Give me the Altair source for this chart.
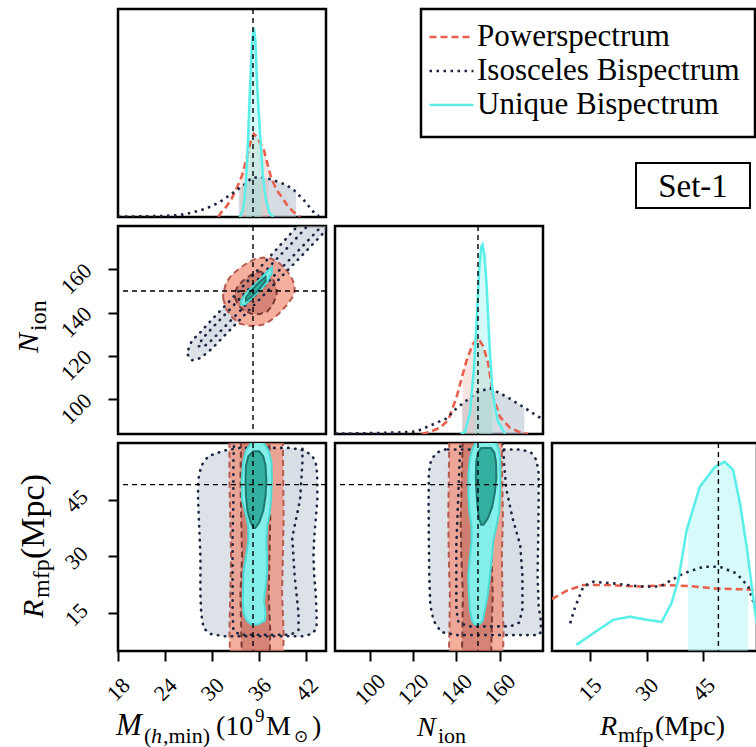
import altair as alt
import pandas as pd

FONT = "Liberation Serif, serif"
W = 208
H = 208
W_LAST = 205
GAP = 9

SERIES = ["Powerspectrum", "Isosceles Bispectrum", "Unique Bispectrum"]
LINE_COLORS = ["#e8604c", "#1c2641", "#5cefe9"]
LINE_DASHES = [[7, 4], [2.5, 4.5], [1, 0]]

TRUTH_M = 35.2
TRUTH_N = 150
TRUTH_R = 49

M_DOMAIN = [18, 44.5]
N_DOMAIN = [84, 180]
R_DOMAIN = [5, 60]
R_DOMAIN_LAST = [5, 59.21]
F_DOMAIN = [0, 1]
M_TICKS = [18, 24, 30, 36, 42]
N_TICKS = [100, 120, 140, 160]
R_TICKS = [15, 30, 45]

# ---------------- 1D marginals (height as fraction of panel) ----------------
M_POW_X = [30.8, 31.1, 31.8, 32.5, 33.2, 33.8, 34.3, 34.8, 35.3, 35.8, 36.6, 37.5, 38.2, 38.8, 39.5, 40.2, 40.8, 41.2]
M_POW_Y = [0.0, 0.02, 0.05, 0.09, 0.145, 0.2, 0.27, 0.35, 0.40, 0.38, 0.32, 0.19, 0.13, 0.10, 0.06, 0.03, 0.01, 0.0]
M_ISO_X = [18, 21, 24, 26, 27.3, 29.2, 30.9, 32.6, 34.05, 35.1, 36.3, 37.6, 39.4, 40.4, 41.7, 43.0, 43.6]
M_ISO_Y = [0.002, 0.003, 0.005, 0.01, 0.02, 0.04, 0.07, 0.115, 0.155, 0.19, 0.19, 0.18, 0.155, 0.13, 0.08, 0.02, 0.005]
M_UNI_X = [33.5, 33.9, 34.1, 34.35, 34.6, 34.85, 35.1, 35.3, 35.5, 35.75, 36.1, 36.45, 36.85, 37.3, 37.8]
M_UNI_Y = [0.0, 0.03, 0.08, 0.2, 0.4, 0.65, 0.85, 0.91, 0.85, 0.62, 0.40, 0.2, 0.08, 0.02, 0.0]

M_ISO_FILL_X = [33.4, 34.05, 35.1, 36.3, 37.6, 39.4, 40.4, 40.7]
M_ISO_FILL_Y = [0.14, 0.155, 0.19, 0.19, 0.18, 0.155, 0.13, 0.12]
M_POW_FILL_X = [33.6, 34.3, 34.8, 35.3, 35.8, 36.6, 37.2]
M_POW_FILL_Y = [0.18, 0.27, 0.35, 0.40, 0.38, 0.32, 0.23]
M_UNI_FILL_X = [34.35, 34.6, 34.85, 35.1, 35.3, 35.5, 35.75, 36.1, 36.3]
M_UNI_FILL_Y = [0.2, 0.4, 0.65, 0.85, 0.91, 0.85, 0.62, 0.40, 0.29]

N_POW_X = [124, 127.8, 132.4, 136.3, 140.2, 142.5, 144.8, 147.5, 150.1, 152.5, 154.7, 157, 160.1, 164.7, 169, 173]
N_POW_Y = [0.0, 0.01, 0.03, 0.067, 0.18, 0.27, 0.356, 0.43, 0.46, 0.42, 0.34, 0.18, 0.083, 0.03, 0.01, 0.0]
N_ISO_X = [84, 95, 105, 115, 121.6, 127.8, 135.5, 140.2, 144, 149.4, 155.5, 163.1, 170.9, 177.8, 180]
N_ISO_Y = [0.002, 0.003, 0.005, 0.008, 0.012, 0.04, 0.075, 0.125, 0.155, 0.2, 0.22, 0.18, 0.13, 0.083, 0.075]
N_UNI_X = [142, 144, 146.3, 148.1, 149.4, 150.5, 151.5, 152.1, 153, 154, 155.5, 156.6, 157.8, 159.2, 160.9, 162.5]
N_UNI_Y = [0.0, 0.01, 0.1, 0.31, 0.55, 0.78, 0.9, 0.91, 0.86, 0.71, 0.39, 0.22, 0.13, 0.06, 0.03, 0.0]

N_ISO_FILL_X = [142.6, 144, 149.4, 155.5, 163.1, 170.9, 171.4]
N_ISO_FILL_Y = [0.145, 0.155, 0.2, 0.22, 0.18, 0.13, 0.127]
N_POW_FILL_X = [143, 144.8, 147.5, 150.1, 152.5, 154.7, 156.5]
N_POW_FILL_Y = [0.29, 0.356, 0.43, 0.46, 0.42, 0.34, 0.22]
N_UNI_FILL_X = [148.4, 149.4, 150.5, 151.5, 152.1, 153, 154, 155.5, 156.6, 157]
N_UNI_FILL_Y = [0.33, 0.55, 0.78, 0.9, 0.91, 0.86, 0.71, 0.39, 0.22, 0.19]

R_POW_X = [5, 8.9, 13.3, 19.1, 28.3, 35.3, 41.5, 48.5, 54.7, 59.2]
R_POW_Y = [0.25, 0.29, 0.317, 0.317, 0.31, 0.317, 0.312, 0.30, 0.297, 0.293]
R_ISO_X = [9.8, 11.1, 13.3, 15.9, 21.2, 28.3, 33.6, 39.7, 45, 49.4, 53.8, 56.9, 58.7, 59.2]
R_ISO_Y = [0.133, 0.21, 0.31, 0.333, 0.325, 0.31, 0.31, 0.373, 0.405, 0.405, 0.373, 0.31, 0.21, 0.17]
R_UNI_X = [11.5, 15.9, 21.2, 25.6, 30, 34, 36.6, 38.4, 40.6, 44.1, 48.1, 50.7, 52.9, 54.7, 56.5, 57.8, 58.9, 59.2]
R_UNI_Y = [0.03, 0.085, 0.15, 0.165, 0.15, 0.14, 0.23, 0.34, 0.58, 0.79, 0.885, 0.91, 0.87, 0.71, 0.50, 0.31, 0.165, 0.13]
R_UNI_FILL_X = [41, 44.1, 48.1, 50.7, 52.9, 54.7, 56.5, 56.9]
R_UNI_FILL_Y = [0.6, 0.79, 0.885, 0.91, 0.87, 0.71, 0.50, 0.45]

# ---------------- 2D contours: M (x) vs N_ion (y) ----------------
MN_ISO_OUT_X = [26.9, 27.4, 28.5, 30, 32, 34, 36, 38, 40, 42, 44.5]
MN_ISO_OUT_LO = [120.5, 118.0, 119.0, 123.5, 131, 138.5, 146, 153.5, 161, 168.5, 178]
MN_ISO_OUT_HI = [122.5, 127.0, 131.0, 137, 144.5, 152.5, 160.5, 168.5, 176.5, 184.5, 193.5]
MN_ISO_IN_X = [28.3, 29, 30, 32, 34, 36, 38, 40, 42, 44.5]
MN_ISO_IN_LO = [124.5, 124.5, 127.5, 135, 142.5, 150, 157.5, 165, 172.5, 182]
MN_ISO_IN_HI = [125.5, 129, 133, 140.5, 148.5, 156, 164, 171.5, 179.5, 189]
MN_POW_OUT_X = [31.4, 31.8, 32.5, 33.5, 34.5, 35.5, 36.5, 37.5, 38.5, 39.5, 40.2, 40.5]
MN_POW_OUT_LO = [146.5, 141.5, 138, 135, 134, 133.8, 134.5, 136.5, 139.5, 143.5, 147, 150]
MN_POW_OUT_HI = [149, 154, 157.5, 160.5, 163, 164.8, 165.4, 165, 163, 159.5, 155.5, 152.5]
MN_POW_IN_X = [32.9, 33.3, 34, 35, 36, 37, 37.7, 38.2]
MN_POW_IN_LO = [147, 143.5, 141, 139.5, 139.3, 140.5, 143.5, 148]
MN_POW_IN_HI = [149.5, 152.5, 155, 157.5, 159, 158.5, 156, 151]
MN_UNI_OUT_X = [33.7, 34.2, 35, 36, 37, 37.6]
MN_UNI_OUT_LO = [143.5, 143.8, 146.5, 150, 154, 158.5]
MN_UNI_OUT_HI = [145.5, 148.5, 151.5, 155, 159, 161]
MN_UNI_IN_X = [34.3, 35, 36, 36.8]
MN_UNI_IN_LO = [145.5, 147.3, 151, 154.5]
MN_UNI_IN_HI = [147, 150.3, 154, 156.5]

# ---------------- 2D contours: M (x) vs R_mfp (y) ----------------
MR_ISO_OUT_R = [8.9, 9.5, 11, 15, 20, 25, 30, 35, 40, 45, 50, 54, 56.5, 58, 58.7]
MR_ISO_OUT_LO = [31.5, 29.8, 28.9, 28.6, 28.5, 28.5, 28.5, 28.4, 28.3, 28.2, 28.2, 28.6, 29.5, 31.5, 33.5]
MR_ISO_OUT_HI = [41.5, 42.7, 43.3, 43.3, 43.2, 43.0, 42.9, 43.0, 43.2, 43.4, 43.4, 43.3, 42.8, 41.8, 40.0]
MR_ISO_IN_R = [9.3, 10.5, 15, 25, 35, 45, 55, 61]
MR_ISO_IN_LO = [33.5, 32.7, 32.6, 32.6, 32.6, 32.7, 32.7, 32.8]
MR_ISO_IN_HI = [40.0, 41.0, 41.0, 40.5, 40.2, 41.2, 41.5, 41.5]
MR_POW_OUT_R = [2, 10, 20, 30, 40, 50, 63]
MR_POW_OUT_LO = [32.3, 32.2, 32.3, 32.4, 32.3, 32.2, 32.2]
MR_POW_OUT_HI = [39.05, 39.1, 38.9, 39.0, 39.1, 39.05, 39.0]
MR_POW_IN_R = [2, 10, 20, 30, 40, 50, 63]
MR_POW_IN_LO = [33.8, 33.7, 33.6, 33.8, 33.7, 33.6, 33.7]
MR_POW_IN_HI = [37.3, 37.4, 37.2, 37.3, 37.4, 37.3, 37.3]
MR_UNI_OUT_R = [12, 13, 15, 18, 22, 26, 30, 34, 38, 41, 45, 50, 55, 58, 59.5, 60.5]
MR_UNI_OUT_LO = [35.0, 34.4, 34.0, 33.9, 33.95, 34.0, 34.3, 34.6, 34.6, 34.3, 33.8, 33.75, 33.95, 34.3, 34.8, 35.0]
MR_UNI_OUT_HI = [35.8, 36.7, 36.8, 36.6, 36.8, 37.0, 37.0, 36.9, 37.0, 37.3, 37.5, 37.6, 37.55, 37.2, 36.7, 36.5]
MR_UNI_IN_R = [37.5, 39, 42, 46, 50, 54, 56.5, 57.8]
MR_UNI_IN_LO = [35.3, 34.9, 34.5, 34.3, 34.25, 34.3, 34.6, 35.2]
MR_UNI_IN_HI = [35.5, 36.0, 36.5, 36.8, 36.9, 36.8, 36.5, 36.0]

# ---------------- 2D contours: N_ion (x) vs R_mfp (y) ----------------
NR_ISO_OUT_R = [9.2, 10, 13, 17, 25, 35, 45, 52, 55.5, 57.5, 58.3]
NR_ISO_OUT_LO = [140, 133, 129.5, 128, 127.5, 127.3, 127.2, 127.3, 128.3, 131, 135]
NR_ISO_OUT_HI = [178, 179, 179, 178, 177.5, 177.8, 178, 178, 177, 174.5, 170]
NR_ISO_IN_R = [11.5, 12.5, 16, 25, 33, 40, 48, 55, 61]
NR_ISO_IN_LO = [146, 141, 140, 140, 140, 140.5, 141, 141.5, 142]
NR_ISO_IN_HI = [165, 169, 170.5, 170.5, 169.5, 166, 163, 162, 161.5]
NR_POW_OUT_R = [2, 10, 20, 30, 40, 50, 63]
NR_POW_OUT_LO = [136.5, 136.8, 137, 136.5, 136.3, 136.5, 136.8]
NR_POW_OUT_HI = [161.5, 161.8, 161.3, 161, 161.5, 161.2, 161]
NR_POW_IN_R = [2, 10, 20, 30, 40, 50, 63]
NR_POW_IN_LO = [142.5, 142.8, 143, 142.3, 142, 142.5, 143]
NR_POW_IN_HI = [156, 156.3, 156.8, 156.2, 155.8, 156, 156.3]
NR_UNI_OUT_R = [12, 13, 16, 20, 25, 30, 34, 38, 42, 47, 52, 56, 58.5, 60.3]
NR_UNI_OUT_LO = [148.5, 147.2, 146.3, 145.8, 145.5, 146.3, 147, 147, 146, 145.5, 145.6, 146.3, 147.5, 149]
NR_UNI_OUT_HI = [150.5, 152.2, 153.2, 154.5, 155.5, 156.5, 157, 158.5, 159.8, 160.2, 160.3, 160.2, 159.5, 158]
NR_UNI_IN_R = [38.4, 40, 43, 47, 51, 55, 57.5, 58.7]
NR_UNI_IN_LO = [151.5, 150.5, 149.8, 149.3, 149.0, 149.2, 150, 151.5]
NR_UNI_IN_HI = [152.5, 154.5, 156.5, 157.8, 158.5, 158.3, 157.5, 156]

# ---------------- styles ----------------
GREY = "#b4bfcc"
NAVY = "#1c2641"
RED_OUT_FILL = "#f28b74"
RED_IN_FILL = "#a8453c"
RED_OUT_STROKE = "#b45a4e"
RED_IN_STROKE = "#7a3a33"
CYAN_OUT_FILL = "#80f5f0"
CYAN_IN_FILL = "#2aa898"
CYAN_OUT_STROKE = "#4ddcd5"
CYAN_IN_STROKE = "#1d7a70"

LEGEND = alt.Legend(
    title=None, orient="none", legendX=318, legendY=12.5, direction="vertical",
    symbolType="M-2,0H2", symbolSize=484, symbolStrokeWidth=2.6,
    labelFont=FONT, labelFontSize=31, labelColor="black", labelOffset=10,
    labelLimit=500, padding=0, rowPadding=2,
)


def sc(dom):
    return alt.Scale(domain=dom, nice=False, zero=False)


def axis(values, orient, offset=0):
    if values is None:
        return None
    return alt.Axis(
        values=values, title=None, labelAngle=315, labelAlign="center",
        labelBaseline="middle", labelPadding=(28 if orient == "bottom" else 32),
        labelOffset=offset, tickSize=10, tickWidth=2, tickColor="black",
        domain=False, grid=False, labelFont=FONT, labelFontSize=22,
        labelColor="black", format="d",
    )


class Panel:
    def __init__(self, xdom, ydom, xaxis, yaxis):
        self.xdom, self.ydom, self.xaxis, self.yaxis = xdom, ydom, xaxis, yaxis

    def X(self, field):
        return alt.X(field + ":Q", scale=sc(self.xdom), axis=self.xaxis)

    def Y(self, field):
        return alt.Y(field + ":Q", scale=sc(self.ydom), axis=self.yaxis)


def area_v(p, xs, lo, hi, **mk):
    df = pd.DataFrame({"x": xs, "lo": lo, "hi": hi})
    return alt.Chart(df).mark_area(orient="vertical", clip=True, **mk).encode(
        x=p.X("x"), y=p.Y("lo"), y2="hi:Q")


def area_h(p, rs, lo, hi, **mk):
    df = pd.DataFrame({"r": rs, "lo": lo, "hi": hi})
    return alt.Chart(df).mark_area(orient="horizontal", clip=True, **mk).encode(
        y=p.Y("r"), x=p.X("lo"), x2="hi:Q")


def fill_1d(p, xs, ys, color, op):
    df = pd.DataFrame({"x": xs, "f": ys})
    return alt.Chart(df).mark_area(clip=True, color=color, opacity=op).encode(
        x=p.X("x"), y=p.Y("f"))


def lines_1d(p, xs_list, ys_list):
    xs, fs, ss = [], [], []
    for name, xv, yv in zip(SERIES, xs_list, ys_list):
        xs += xv
        fs += yv
        ss += [name] * len(xv)
    df = pd.DataFrame({"x": xs, "f": fs, "series": ss})
    return alt.Chart(df).mark_line(clip=True, strokeWidth=2.6).encode(
        x=p.X("x"), y=p.Y("f"),
        color=alt.Color("series:N", scale=alt.Scale(domain=SERIES, range=LINE_COLORS), legend=LEGEND),
        strokeDash=alt.StrokeDash("series:N", scale=alt.Scale(domain=SERIES, range=LINE_DASHES), legend=LEGEND),
    )


def vrule(p, v):
    return alt.Chart(pd.DataFrame({"v": [v]})).mark_rule(
        color="black", strokeWidth=1.4, strokeDash=[5, 4]).encode(x=p.X("v"))


def hrule(p, v):
    return alt.Chart(pd.DataFrame({"v": [v]})).mark_rule(
        color="black", strokeWidth=1.4, strokeDash=[5, 4]).encode(y=p.Y("v"))


def txt(s, x, y, size, origin, italic=False, angle=0):
    ox, oy = origin
    return alt.Chart(pd.DataFrame({"t": [s]})).mark_text(
        font=FONT, fontSize=size, fontStyle=("italic" if italic else "normal"),
        align="left", baseline="alphabetic", angle=angle, color="black",
    ).encode(text="t:N", x=alt.value(x - ox), y=alt.value(y - oy))


ISO_DOT = dict(stroke=NAVY, strokeWidth=2.6, strokeDash=[0.5, 6.5], strokeCap="round", fillOpacity=0)


def contours(p, builder, iso_out, iso_in, pow_out, pow_in, uni_out, uni_in):
    return [
        builder(p, *iso_out, color=GREY, opacity=0.45),
        builder(p, *iso_in, color=GREY, opacity=0.1),
        builder(p, *pow_out, fill=RED_OUT_FILL, fillOpacity=0.7, stroke=RED_OUT_STROKE,
                strokeWidth=2, strokeDash=[6, 4]),
        builder(p, *pow_in, fill=RED_IN_FILL, fillOpacity=0.4, stroke=RED_IN_STROKE,
                strokeWidth=2, strokeDash=[6, 4]),
        builder(p, *iso_out, **ISO_DOT),
        builder(p, *iso_in, **ISO_DOT),
        builder(p, *uni_out, fill=CYAN_OUT_FILL, fillOpacity=0.95, stroke=CYAN_OUT_STROKE, strokeWidth=2),
        builder(p, *uni_in, fill=CYAN_IN_FILL, fillOpacity=0.9, stroke=CYAN_IN_STROKE, strokeWidth=2),
    ]


NOVIEW = alt.ViewBackground(stroke="transparent")

# ---- panel (0,0): M marginal ----
p = Panel(M_DOMAIN, F_DOMAIN, None, None)
p00 = alt.layer(
    fill_1d(p, M_ISO_FILL_X, M_ISO_FILL_Y, GREY, 0.55),
    fill_1d(p, M_POW_FILL_X, M_POW_FILL_Y, "#e8b0a4", 0.35),
    fill_1d(p, M_UNI_FILL_X, M_UNI_FILL_Y, "#7ef3ef", 0.35),
    lines_1d(p, [M_POW_X, M_ISO_X, M_UNI_X], [M_POW_Y, M_ISO_Y, M_UNI_Y]),
    vrule(p, TRUTH_M),
).properties(width=W, height=H)

# ---- panel (0,1): M vs N ----
O01 = (118, 226)
p = Panel(M_DOMAIN, N_DOMAIN, None, axis(N_TICKS, "left", 9))
p01 = alt.layer(
    *contours(p, area_v,
              (MN_ISO_OUT_X, MN_ISO_OUT_LO, MN_ISO_OUT_HI),
              (MN_ISO_IN_X, MN_ISO_IN_LO, MN_ISO_IN_HI),
              (MN_POW_OUT_X, MN_POW_OUT_LO, MN_POW_OUT_HI),
              (MN_POW_IN_X, MN_POW_IN_LO, MN_POW_IN_HI),
              (MN_UNI_OUT_X, MN_UNI_OUT_LO, MN_UNI_OUT_HI),
              (MN_UNI_IN_X, MN_UNI_IN_LO, MN_UNI_IN_HI)),
    vrule(p, TRUTH_M), hrule(p, TRUTH_N),
    txt("N", 38, 353, 30, O01, italic=True, angle=270),
    txt("ion", 46, 331, 24, O01, angle=270),
).properties(width=W, height=H)

# ---- panel (1,1): N marginal ----
p = Panel(N_DOMAIN, F_DOMAIN, None, None)
p11 = alt.layer(
    fill_1d(p, N_ISO_FILL_X, N_ISO_FILL_Y, GREY, 0.55),
    fill_1d(p, N_POW_FILL_X, N_POW_FILL_Y, "#e8b0a4", 0.35),
    fill_1d(p, N_UNI_FILL_X, N_UNI_FILL_Y, "#7ef3ef", 0.35),
    lines_1d(p, [N_POW_X, N_ISO_X, N_UNI_X], [N_POW_Y, N_ISO_Y, N_UNI_Y]),
    vrule(p, TRUTH_N),
).properties(width=W, height=H)

# ---- panel (0,2): M vs R ----
O02 = (118, 443)
p = Panel(M_DOMAIN, R_DOMAIN, axis(M_TICKS, "bottom"), axis(R_TICKS, "left", 1))
p02 = alt.layer(
    *contours(p, area_h,
              (MR_ISO_OUT_R, MR_ISO_OUT_LO, MR_ISO_OUT_HI),
              (MR_ISO_IN_R, MR_ISO_IN_LO, MR_ISO_IN_HI),
              (MR_POW_OUT_R, MR_POW_OUT_LO, MR_POW_OUT_HI),
              (MR_POW_IN_R, MR_POW_IN_LO, MR_POW_IN_HI),
              (MR_UNI_OUT_R, MR_UNI_OUT_LO, MR_UNI_OUT_HI),
              (MR_UNI_IN_R, MR_UNI_IN_LO, MR_UNI_IN_HI)),
    vrule(p, TRUTH_M), hrule(p, TRUTH_R),
    txt("R", 43, 618, 30, O02, italic=True, angle=270),
    txt("mfp", 49, 598, 24, O02, angle=270),
    txt("(Mpc)", 44, 559, 34, O02, angle=270),
    txt("M", 116, 735, 31, O02, italic=True),
    txt("(", 144, 743, 22, O02),
    txt("h", 151, 743, 22, O02, italic=True),
    txt(",min)", 163, 743, 22, O02),
    txt("(10", 216, 735, 28, O02),
    txt("9", 255, 722, 19, O02),
    txt("M", 266, 735, 28, O02),
    txt("\u2299", 294, 742, 17, O02),
    txt(")", 312, 735, 28, O02),
).properties(width=W, height=H)

# ---- panel (1,2): N vs R ----
O12 = (335, 443)
p = Panel(N_DOMAIN, R_DOMAIN, axis(N_TICKS, "bottom"), None)
p12 = alt.layer(
    *contours(p, area_h,
              (NR_ISO_OUT_R, NR_ISO_OUT_LO, NR_ISO_OUT_HI),
              (NR_ISO_IN_R, NR_ISO_IN_LO, NR_ISO_IN_HI),
              (NR_POW_OUT_R, NR_POW_OUT_LO, NR_POW_OUT_HI),
              (NR_POW_IN_R, NR_POW_IN_LO, NR_POW_IN_HI),
              (NR_UNI_OUT_R, NR_UNI_OUT_LO, NR_UNI_OUT_HI),
              (NR_UNI_IN_R, NR_UNI_IN_LO, NR_UNI_IN_HI)),
    vrule(p, TRUTH_N), hrule(p, TRUTH_R),
    txt("N", 417, 736, 28, O12, italic=True),
    txt("ion", 438, 743, 22, O12),
).properties(width=W, height=H)

# ---- panel (2,2): R marginal ----
O22 = (552, 443)
p = Panel(R_DOMAIN_LAST, F_DOMAIN, axis(R_TICKS, "bottom"), None)
p22 = alt.layer(
    fill_1d(p, R_UNI_FILL_X, R_UNI_FILL_Y, "#a6f7f5", 0.45),
    lines_1d(p, [R_POW_X, R_ISO_X, R_UNI_X], [R_POW_Y, R_ISO_Y, R_UNI_Y]),
    vrule(p, TRUTH_R),
    txt("R", 600, 735, 28, O22, italic=True),
    txt("mfp", 618, 742, 22, O22),
    txt("(Mpc)", 655, 735, 28, O22),
).properties(width=W_LAST, height=H)

# ---- top-right cell: legend frame and Set-1 label ----
one = pd.DataFrame({"t": ["Set-1"]})
p20 = alt.layer(
    alt.Chart(one).mark_rect(fill="white", stroke="black", strokeWidth=2.5).encode(
        x=alt.value(-131), x2=alt.value(203), y=alt.value(0), y2=alt.value(128)),
    alt.Chart(one).mark_rect(fill="white", stroke="black", strokeWidth=2).encode(
        x=alt.value(84), x2=alt.value(198), y=alt.value(154), y2=alt.value(199)),
    alt.Chart(one).mark_text(font=FONT, fontSize=33, color="black", align="center",
                             baseline="middle").encode(
        text="t:N", x=alt.value(141), y=alt.value(178)),
).properties(width=W, height=H, view=NOVIEW)


def blank():
    return alt.Chart(pd.DataFrame({"a": [0]})).mark_point(opacity=0).encode(
        x=alt.value(0), y=alt.value(0)).properties(width=W, height=H, view=NOVIEW)


chart = alt.concat(
    p00, blank(), p20,
    p01, p11, blank(),
    p02, p12, p22,
    columns=3, spacing=GAP, bounds="flush", align="all",
).properties(
    autosize=alt.AutoSizeParams(type="none"),
    padding={"left": 118, "top": 9, "right": 638, "bottom": 738},
    background="white",
).configure_view(
    stroke="black", strokeWidth=2.5
)

chart.save("out.html", embed_options={"renderer": "svg", "actions": False})
